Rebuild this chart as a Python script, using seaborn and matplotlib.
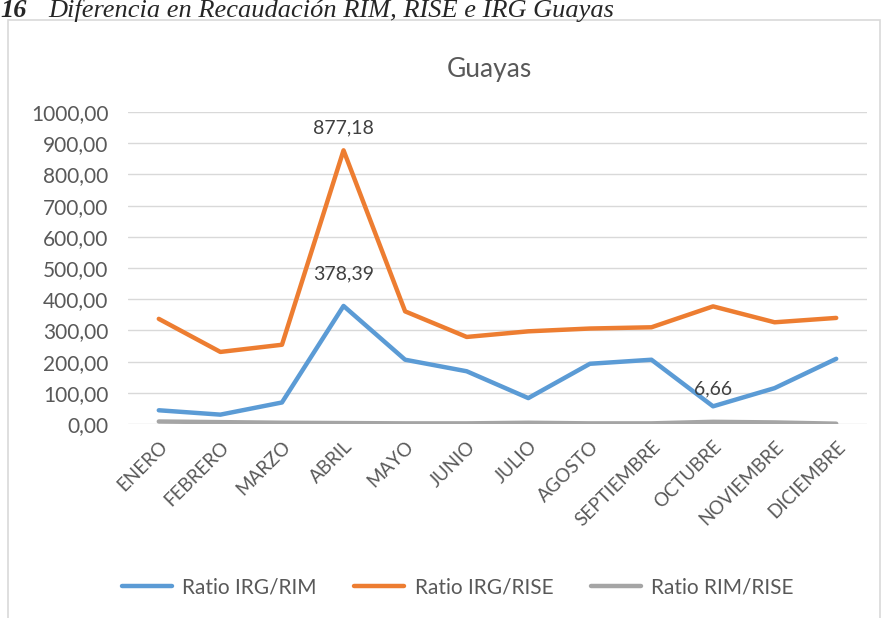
import pandas as pd
from matplotlib import pyplot as plt
import matplotlib.patches as mpatches
import seaborn as sns

meses = ["ENERO", "FEBRERO", "MARZO", "ABRIL", "MAYO", "JUNIO", "JULIO",
         "AGOSTO", "SEPTIEMBRE", "OCTUBRE", "NOVIEMBRE", "DICIEMBRE"]
irg_rim = [44, 30, 69, 378.39, 206, 169, 83, 193, 206, 56.66, 115, 209]
irg_rise = [337, 231, 254, 877.18, 361, 279, 297, 306, 310, 377, 326, 340]
rim_rise = [8, 6, 4, 3, 2, 2, 4, 2, 2, 7, 5, 1]
series = ["Ratio IRG/RIM", "Ratio IRG/RISE", "Ratio RIM/RISE"]
colores = ["#5B9BD5", "#ED7D31", "#A5A5A5"]

df = pd.DataFrame({"mes": meses * 3,
                   "x": list(range(12)) * 3,
                   "valor": irg_rim + irg_rise + rim_rise,
                   "serie": [s for s in series for _ in meses]})

sns.set_theme(style="white")
plt.rcParams["font.family"] = ["Lato", "DejaVu Sans"]

fig = plt.figure(figsize=(8.84, 6.18), dpi=100)
ax = fig.add_axes([128 / 884, 1 - 424 / 618, 739 / 884, 312 / 618])

sns.lineplot(data=df, x="x", y="valor", hue="serie", palette=colores,
             linewidth=3.2, ax=ax, legend=True, sort=False)

ax.set_xlim(-0.5, 11.5)
ax.set_ylim(0, 1000)
ax.set_yticks(range(0, 1001, 100))
ax.set_yticklabels([f"{v},00" for v in range(0, 1001, 100)], fontsize=15, color="#595959")
ax.set_xticks(range(12))
ax.set_xticklabels(meses, rotation=45, ha="right", rotation_mode="anchor",
                   fontsize=13.5, color="#595959")
ax.tick_params(axis="y", length=0, pad=14)
ax.tick_params(axis="x", length=0, pad=10)
ax.grid(axis="y", color="#D9D9D9", linewidth=1)
ax.set_axisbelow(True)
for s in ax.spines.values():
    s.set_visible(False)
ax.set_xlabel("")
ax.set_ylabel("")

# etiquetas de datos
ax.text(3, 877.18 + 45, "877,18", ha="center", va="bottom", fontsize=14, color="#404040")
ax.text(3, 378.39 + 75, "378,39", ha="center", va="bottom", fontsize=14, color="#404040")
ax.text(9, 56.66 + 30, "6,66", ha="center", va="bottom", fontsize=14, color="#404040")

ax.set_title("Guayas", fontsize=19, color="#595959", x=(489 - 128) / 739, pad=25)

handles, labels = ax.get_legend_handles_labels()
ax.legend(handles, labels, loc="center", bbox_to_anchor=(458 / 884, 1 - 587 / 618),
          bbox_transform=fig.transFigure, ncol=3, frameon=False, fontsize=15,
          handlelength=2.4, handletextpad=0.5, columnspacing=1.8, labelcolor="#595959")

# marco del grafico
fig.patches.append(mpatches.Rectangle((8 / 884, -0.05), 872 / 884, 1 - 20 / 618 + 0.05,
                                      transform=fig.transFigure, fill=False,
                                      edgecolor="#D9D9D9", linewidth=1.2))

fig.text(0.0, 1 - 17 / 618, "16", fontsize=19, fontweight="bold", style="italic",
         family="Liberation Serif", va="baseline", ha="left")
fig.text(48 / 884, 1 - 17 / 618, "Diferencia en Recaudación RIM, RISE e IRG Guayas",
         fontsize=19, style="italic", family="Liberation Serif", va="baseline", ha="left")

fig.savefig("out.png", dpi=100)
